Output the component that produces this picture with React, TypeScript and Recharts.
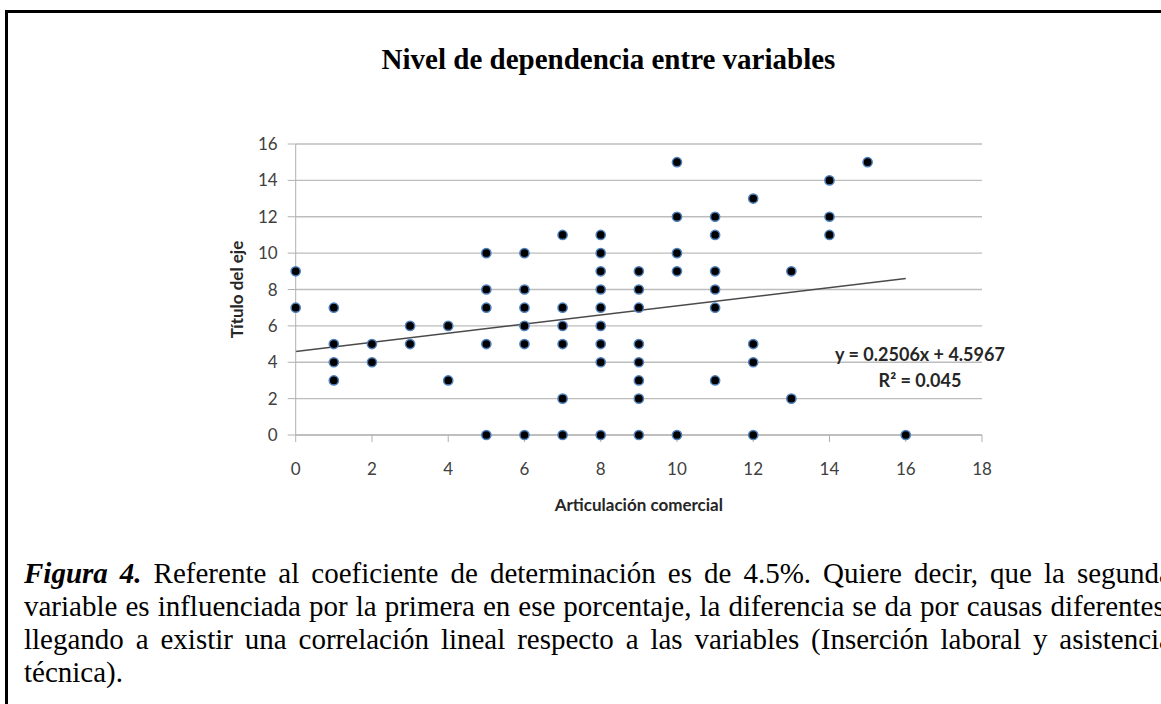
import { ScatterChart, Scatter, XAxis, YAxis, CartesianGrid, ReferenceLine } from "recharts";

// Articulación comercial (x) / Título del eje (y), read column by column
const articulacion = [
  0, 0,
  1, 1, 1, 1,
  2, 2,
  3, 3,
  4, 4,
  5, 5, 5, 5, 5,
  6, 6, 6, 6, 6, 6,
  7, 7, 7, 7, 7, 7,
  8, 8, 8, 8, 8, 8, 8, 8, 8,
  9, 9, 9, 9, 9, 9, 9, 9,
  10, 10, 10, 10, 10,
  11, 11, 11, 11, 11, 11,
  12, 12, 12, 12,
  13, 13,
  14, 14, 14,
  15,
  16,
];
const titulo = [
  9, 7,
  7, 5, 4, 3,
  5, 4,
  6, 5,
  6, 3,
  10, 8, 7, 5, 0,
  10, 8, 7, 6, 5, 0,
  11, 7, 6, 5, 2, 0,
  11, 10, 9, 8, 7, 6, 5, 4, 0,
  9, 8, 7, 5, 4, 3, 2, 0,
  15, 12, 10, 9, 0,
  12, 11, 9, 8, 7, 3,
  13, 5, 4, 0,
  9, 2,
  14, 12, 11,
  15,
  0,
];

const xTicks = [0, 2, 4, 6, 8, 10, 12, 14, 16, 18];
const yTicks = [0, 2, 4, 6, 8, 10, 12, 14, 16];

// trendline as printed on the chart
const slope = 0.2506;
const intercept = 4.5967;
const trendX = [0, 16];
const equationText = "y = 0.2506x + 4.5967";
const r2Text = "R² = 0.045";

const title = "Nivel de dependencia entre variables";
const captionLines = [
  " Referente al coeficiente de determinación es de 4.5%. Quiere decir, que la segunda",
  "variable es influenciada por la primera en ese porcentaje, la diferencia se da por causas diferentes,",
  "llegando a existir una correlación lineal respecto a las variables (Inserción laboral y asistencia",
  "técnica).",
];

const points = articulacion.map((x, i) => ({ x, y: titulo[i] }));

const Dot = (props: any) => {
  const { cx, cy } = props;
  return <circle cx={cx} cy={cy} r={4.6} fill="#000" stroke="#4f81bd" strokeWidth={1.5} />;
};

const axisFont = "Lato, 'Open Sans', sans-serif";

export default function App() {
  return (
    <div style={{ position: "fixed", inset: 0, overflow: "hidden", background: "#fff" }}>
      <div
        style={{
          position: "absolute",
          left: 5,
          top: 10,
          width: 1400,
          height: 900,
          border: "3px solid #000",
        }}
      />
      <div
        style={{
          position: "absolute",
          left: 608.5,
          top: 42.7,
          transform: "translateX(-50%)",
          whiteSpace: "nowrap",
          font: "bold 29px 'Liberation Serif', serif",
          lineHeight: "33px",
          color: "#000",
        }}
      >
        {title}
      </div>

      <div style={{ position: "absolute", left: 0, top: 0 }}>
        <ScatterChart width={1161} height={600} margin={{ top: 144, right: 179, left: 177.7, bottom: 85 }}>
          <CartesianGrid vertical={false} stroke="#bdbdbd" strokeWidth={1.3} />
          <XAxis
            type="number"
            dataKey="x"
            domain={[0, 18]}
            ticks={xTicks}
            height={80}
            tickSize={7}
            tickMargin={21}
            stroke="#b0b0b0"
            tick={{ fill: "#404040", fontSize: 17, fontFamily: axisFont }}
            label={{
              value: "Articulación comercial",
              position: "insideBottom",
              offset: 4,
              fill: "#262626",
              fontSize: 17,
              fontWeight: "bold",
              fontFamily: axisFont,
            }}
          />
          <YAxis
            type="number"
            dataKey="y"
            domain={[0, 16]}
            ticks={yTicks}
            width={118}
            tickSize={8}
            tickMargin={10}
            stroke="#b0b0b0"
            tick={{ fill: "#404040", fontSize: 17, fontFamily: axisFont }}
            label={{
              value: "Título del eje",
              position: "center",
              angle: -90,
              fill: "#262626",
              fontSize: 17,
              fontWeight: "bold",
              fontFamily: axisFont,
            }}
          />
          <ReferenceLine
            segment={trendX.map((x) => ({ x, y: slope * x + intercept }))}
            stroke="#4a4a4a"
            strokeWidth={1.5}
          />
          <Scatter data={points} shape={<Dot />} isAnimationActive={false} />
        </ScatterChart>
      </div>

      <div
        style={{
          position: "absolute",
          left: 920,
          top: 344.5,
          transform: "translateX(-50%)",
          whiteSpace: "nowrap",
          font: `bold 18px ${axisFont}`,
          lineHeight: "18px",
          color: "#262626",
        }}
      >
        {equationText}
      </div>
      <div
        style={{
          position: "absolute",
          left: 920,
          top: 370.5,
          transform: "translateX(-50%)",
          whiteSpace: "nowrap",
          font: `bold 18px ${axisFont}`,
          lineHeight: "18px",
          color: "#262626",
        }}
      >
        {r2Text}
      </div>

      <div
        style={{
          position: "absolute",
          left: 24,
          top: 556.7,
          width: 1148,
          font: "29px 'Liberation Serif', serif",
          lineHeight: "33px",
          color: "#000",
        }}
      >
        {captionLines.map((line, i) => (
          <div
            key={i}
            style={{
              textAlign: "justify",
              textAlignLast: i < captionLines.length - 1 ? "justify" : "left",
            }}
          >
            {i === 0 && <b><i>Figura 4.</i></b>}
            {line}
          </div>
        ))}
      </div>
    </div>
  );
}
